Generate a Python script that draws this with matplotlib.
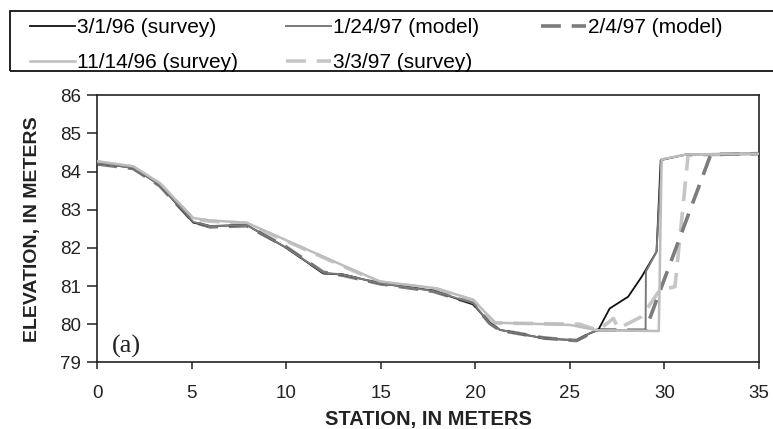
import matplotlib
matplotlib.use("Agg")
import matplotlib.pyplot as plt
from matplotlib.patches import Rectangle

plt.rcParams['font.family'] = ['Liberation Sans', 'DejaVu Sans']

# ---- data ----
labels = ["3/1/96 (survey)", "1/24/97 (model)", "2/4/97 (model)",
          "11/14/96 (survey)", "3/3/97 (survey)"]

x_s960301 = [0, 1.9, 3.3, 5.08, 5.96, 7.9, 10.0, 11.95, 13.0, 14.95, 17.77, 19.88,
             20.76, 21.3, 23.6, 24.5, 25.35, 26.05, 26.5, 27.1, 28.08, 28.79, 29.58,
             29.8, 31.17, 35]
y_s960301 = [84.22, 84.1, 83.65, 82.66, 82.57, 82.6, 82.0, 81.33, 81.3, 81.07, 80.88,
             80.52, 80.03, 79.85, 79.63, 79.6, 79.58, 79.76, 79.85, 80.41, 80.72, 81.24,
             81.9, 84.3, 84.45, 84.47]

x_m970124 = [0, 1.9, 3.3, 5.08, 5.96, 7.9, 10.0, 11.95, 13.0, 14.95, 17.77, 19.88,
             20.76, 21.3, 23.6, 24.5, 25.35, 26.05, 26.5, 29.0, 29.02, 29.58, 29.85,
             31.17, 35]
y_m970124 = [84.22, 84.1, 83.65, 82.68, 82.57, 82.6, 82.0, 81.35, 81.3, 81.07, 80.87,
             80.55, 80.02, 79.85, 79.63, 79.6, 79.58, 79.76, 79.85, 79.83, 81.38, 81.9,
             84.32, 84.45, 84.47]

x_m970204 = [0, 1.9, 3.3, 5.08, 5.96, 7.9, 10.0, 11.95, 13.0, 14.95, 17.77, 19.88,
             20.76, 21.3, 23.6, 24.5, 25.35, 26.05, 26.5, 29.0, 29.32, 32.45, 35]
y_m970204 = [84.2, 84.08, 83.63, 82.68, 82.55, 82.58, 82.02, 81.36, 81.28, 81.06, 80.86,
             80.54, 80.02, 79.84, 79.64, 79.6, 79.57, 79.75, 79.85, 79.84, 80.28, 84.45,
             84.47]

x_s961114 = [0, 1.9, 3.3, 5.08, 5.96, 7.9, 13.36, 14.95, 17.95, 19.88, 20.4, 21.03,
             25.0, 26.45, 29.7, 29.85, 31.17, 35]
y_s961114 = [84.27, 84.14, 83.7, 82.78, 82.72, 82.66, 81.46, 81.12, 80.94, 80.64, 80.37,
             80.04, 79.98, 79.84, 79.82, 84.32, 84.45, 84.47]

x_s970303 = [0, 1.9, 3.3, 5.08, 5.96, 7.9, 13.36, 14.95, 17.95, 19.88, 20.4, 21.03,
             25.5, 26.5, 27.3, 27.55, 28.17, 28.79, 29.76, 30.55, 30.6, 31.25, 35]
y_s970303 = [84.25, 84.12, 83.68, 82.76, 82.7, 82.64, 81.44, 81.1, 80.92, 80.62, 80.35,
             80.03, 80.0, 79.84, 80.15, 79.89, 80.04, 80.2, 80.9, 80.98, 81.2, 84.43,
             84.47]

x_ticks = [0, 5, 10, 15, 20, 25, 30, 35]
y_ticks = [79, 80, 81, 82, 83, 84, 85, 86]

# ---- figure ----
W, H = 773, 429
fig = plt.figure(figsize=(W / 100, H / 100), dpi=100)
ax = fig.add_axes([97.3 / W, (H - 362.3) / H, (759 - 97.3) / W, (362.3 - 95.3) / H])

l1, = ax.plot(x_s960301, y_s960301, color='#111111', lw=1.3, zorder=3)
l2, = ax.plot(x_m970124, y_m970124, color='#7a7a7a', lw=1.4, zorder=4)
l3, = ax.plot(x_m970204, y_m970204, color='#7c7c7c', lw=2.6, dashes=(5.5, 3), zorder=2)
l4, = ax.plot(x_s961114, y_s961114, color='#bdbdbd', lw=1.8, zorder=5)
l5, = ax.plot(x_s970303, y_s970303, color='#c6c6c6', lw=2.6, dashes=(5.5, 3), zorder=1)

ax.set_xlim(0, 35)
ax.set_ylim(79, 86)
ax.set_xticks(x_ticks)
ax.set_yticks(y_ticks)
ax.set_xticklabels([str(v) for v in x_ticks])
ax.set_yticklabels([str(v) for v in y_ticks])
ax.tick_params(axis='x', direction='out', length=5, width=1.1, labelsize=13.5, pad=11,
               colors='#222222')
ax.tick_params(axis='y', direction='out', length=7, width=1.1, labelsize=13.5, pad=5,
               colors='#222222')
for s in ax.spines.values():
    s.set_linewidth(1.2)
    s.set_color('#222222')

ax.set_xlabel("STATION, IN METERS", fontsize=14.5, fontweight='bold', color='#222222')
ax.set_ylabel("ELEVATION, IN METERS", fontsize=14, fontweight='bold', color='#222222')
ax.xaxis.label.set_va('center')
ax.xaxis.set_label_coords(0.5, (362.3 - 420) / 267.0)
ax.yaxis.label.set_va('center')
ax.yaxis.set_label_coords((33 - 97.3) / 661.7, 0.5)

ax.text(0.022, 0.058, "(a)", transform=ax.transAxes, fontsize=19,
        family=['Liberation Serif', 'DejaVu Serif'], ha='left', va='center',
        color='#222222')

# legend frame
fig.patches.append(Rectangle((10 / W, (H - 71) / H), 800 / W, 60 / H,
                             transform=fig.transFigure, fill=False,
                             edgecolor='#111111', lw=1.3))

common = dict(loc='upper left', frameon=False, borderpad=0, borderaxespad=0,
              fontsize=15, handlelength=2.15, handletextpad=0.1, labelspacing=0.78)
top = (H - 18) / H
leg1 = fig.legend([l1, l4], [labels[0], labels[3]], bbox_to_anchor=(30 / W, top), **common)
leg2 = fig.legend([l2, l5], [labels[1], labels[4]], bbox_to_anchor=(286 / W, top), **common)
leg3 = fig.legend([l3], [labels[2]], bbox_to_anchor=(541 / W, top), **common)

fig.savefig("out.png", dpi=100)
